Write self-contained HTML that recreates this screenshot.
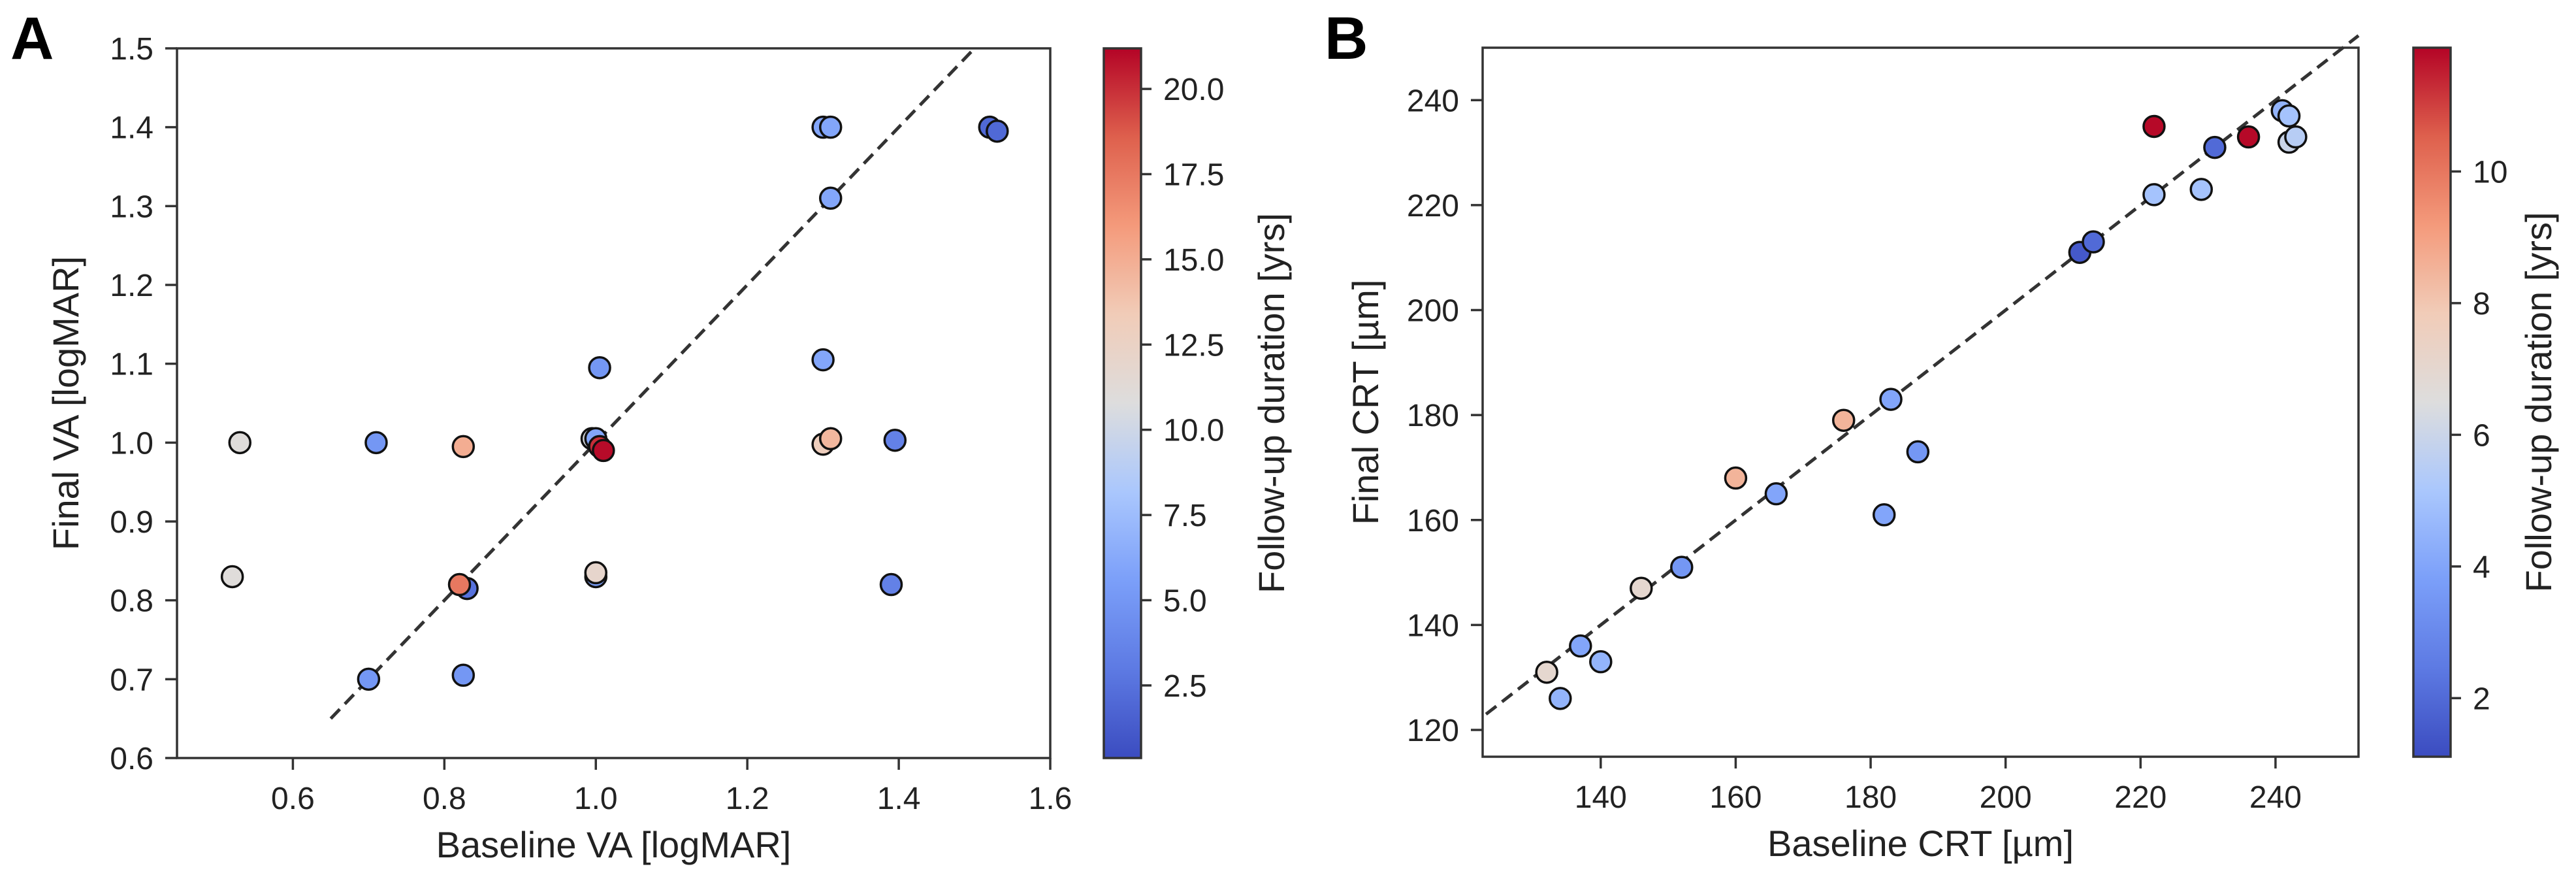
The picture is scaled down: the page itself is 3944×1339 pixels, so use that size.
<!DOCTYPE html>
<html><head><meta charset="utf-8">
<style>
html,body{margin:0;padding:0;background:#fff;}
svg{display:block;font-family:"Liberation Sans",sans-serif;}
</style></head>
<body>
<svg id="fig" width="3944" height="1339" viewBox="0 0 3944 1339" xmlns="http://www.w3.org/2000/svg">
<defs>
<linearGradient id="cw" x1="0" y1="1" x2="0" y2="0">
<stop offset="0" stop-color="#3b4cc0"/><stop offset="0.125" stop-color="#5d7ae3"/>
<stop offset="0.25" stop-color="#7b9ff9"/><stop offset="0.375" stop-color="#aac7fd"/>
<stop offset="0.5" stop-color="#dddddd"/><stop offset="0.625" stop-color="#f1ccb8"/>
<stop offset="0.75" stop-color="#f49a7b"/><stop offset="0.875" stop-color="#de604d"/>
<stop offset="1" stop-color="#b40426"/></linearGradient>
</defs>
</svg>
<script>
// Panel A data
const aBase = [0.52,0.53,0.71,0.70,0.825,0.825,0.83,0.82,0.995,1.0,1.005,1.01,1.005,1.0,1.0,1.3,1.31,1.31,1.30,1.30,1.31,1.395,1.39,1.52,1.53];
const aFinal = [0.83,1.0,1.0,0.70,0.995,0.705,0.815,0.82,1.005,1.005,0.995,0.99,1.095,0.83,0.835,1.4,1.4,1.31,1.105,0.998,1.005,1.003,0.82,1.40,1.395];
const aFollow = [11,11,5,5,15,5,2.5,17.5,10.5,6,20,21,5,5.5,12,6,6,6,6,13,14.5,3.5,3.5,2,2];
const aXTicks = [0.6,0.8,1.0,1.2,1.4,1.6];
const aYTicks = [0.6,0.7,0.8,0.9,1.0,1.1,1.2,1.3,1.4,1.5];
const aCTicks = [2.5,5.0,7.5,10.0,12.5,15.0,17.5,20.0];
// Panel B data
const bBase = [132,134,137,140,146,152,160,166,176,182,183,187,211,213,222,222,229,231,236,241,242,242,243];
const bFinal = [131,126,136,133,147,151,168,165,179,161,183,173,211,213,235,222,223,231,233,238,237,232,233];
const bFollow = [7,4.5,4,4.5,7,3.5,8.5,4,8.5,4,4,3.5,1.5,2,11.8,5,5,2,11.8,4.5,5,6,5.5];
const bXTicks = [140,160,180,200,220,240];
const bYTicks = [120,140,160,180,200,220,240];
const bCTicks = [2,4,6,8,10];

const NS="http://www.w3.org/2000/svg";
const svg=document.getElementById('fig');
function mk(tag,attrs,parent,text){const e=document.createElementNS(NS,tag);for(const k in attrs)e.setAttribute(k,attrs[k]);if(text!==undefined)e.textContent=text;(parent||svg).appendChild(e);return e;}
const stops=[[0,[59,76,192]],[0.125,[93,122,227]],[0.25,[123,159,249]],[0.375,[170,199,253]],[0.5,[221,221,221]],[0.625,[241,204,184]],[0.75,[244,154,123]],[0.875,[222,96,77]],[1,[180,4,38]]];
function cw(t){t=Math.max(0,Math.min(1,t));for(let i=1;i<stops.length;i++){if(t<=stops[i][0]){const a=stops[i-1],b=stops[i];const f=(t-a[0])/(b[0]-a[0]);const c=a[1].map((v,j)=>Math.round(v+(b[1][j]-v)*f));return `rgb(${c[0]},${c[1]},${c[2]})`;}}return 'rgb(180,4,38)';}
function lin(d0,d1,r0,r1){return v=>r0+(v-d0)/(d1-d0)*(r1-r0);}

function panel(o){
  const g=mk('g',{});
  
  
  const X=lin(o.xlim[0],o.xlim[1],o.L,o.R), Y=lin(o.ylim[0],o.ylim[1],o.B,o.T);
  const l=mk('line',{x1:X(o.line[0]),y1:Y(o.line[0]),x2:X(o.line[1]),y2:Y(o.line[1]),stroke:'#333','stroke-width':5,'stroke-dasharray':'20 11'},g);
  
  
  for(let i=0;i<o.xs.length;i++){
    const c=mk('circle',{cx:X(o.xs[i]),cy:Y(o.ys[i]),r:16,fill:cw((o.cs[i]-o.clim[0])/(o.clim[1]-o.clim[0])),stroke:'#111','stroke-width':3.5},g);
    
    
  }
  const f=mk('rect',{x:o.L,y:o.T,width:o.R-o.L,height:o.B-o.T,fill:'none',stroke:'#333','stroke-width':3.5},g);
  
  
  o.xt.forEach(v=>{const x=X(v);mk('line',{x1:x,y1:o.B,x2:x,y2:o.B+18,stroke:'#333','stroke-width':3.5},g);
    const t=mk('text',{x:x,y:o.B+78,'font-size':48,'text-anchor':'middle',fill:'#222'},g,o.xf(v));
    
    });
  o.yt.forEach(v=>{const y=Y(v);mk('line',{x1:o.L-18,y1:y,x2:o.L,y2:y,stroke:'#333','stroke-width':3.5},g);
    const t=mk('text',{x:o.L-36,y:y+17,'font-size':48,'text-anchor':'end',fill:'#222'},g,o.yf(v));
    
    });
  const xl=mk('text',{x:(o.L+o.R)/2,y:o.B+152,'font-size':56,'text-anchor':'middle',fill:'#222'},g,o.xlabel);
  
  
  const yl=mk('text',{x:0,y:0,'font-size':56,'text-anchor':'middle',fill:'#222',transform:`translate(${o.ylx},${(o.T+o.B)/2}) rotate(-90)`},g,o.ylabel);
  
  
  const C=lin(o.clim[0],o.clim[1],o.B,o.T);
  const cb=mk('rect',{x:o.cbx,y:o.T,width:o.cbw,height:o.B-o.T,fill:'url(#cw)',stroke:'#333','stroke-width':3.5},g);
  
  
  o.ct.forEach(v=>{const y=C(v);mk('line',{x1:o.cbx+o.cbw,y1:y,x2:o.cbx+o.cbw+16,y2:y,stroke:'#333','stroke-width':3.5},g);
    const t=mk('text',{x:o.cbx+o.cbw+34,y:y+17,'font-size':48,fill:'#222'},g,o.cf(v));
    
    });
  const cl=mk('text',{x:0,y:0,'font-size':56,'text-anchor':'middle',fill:'#222',transform:`translate(${o.clx},${(o.T+o.B)/2}) rotate(-90)`},g,'Follow-up duration [yrs]');
  
  
  const pl=mk('text',{x:o.plx,y:90,'font-size':92,'font-weight':'bold',fill:'#000'},g,o.letter);
  
  
}
panel({name:'panel-a-va',L:271,R:1608,T:74,B:1160,xlim:[0.447,1.6],ylim:[0.6,1.5],line:[0.65,1.5],
  xs:aBase,ys:aFinal,cs:aFollow,clim:[0.37,21.19],xt:aXTicks,yt:aYTicks,ct:aCTicks,
  xf:v=>v.toFixed(1),yf:v=>v.toFixed(1),cf:v=>v.toFixed(1),
  xlabel:'Baseline VA [logMAR]',ylabel:'Final VA [logMAR]',ylx:120,cbx:1690,cbw:57,clx:1966,plx:16,letter:'A'});
panel({name:'panel-b-crt',L:2270,R:3611,T:73,B:1158,xlim:[122.5,252.3],ylim:[114.9,250],line:[123,252.3],
  xs:bBase,ys:bFinal,cs:bFollow,clim:[1.11,11.88],xt:bXTicks,yt:bYTicks,ct:bCTicks,
  xf:v=>String(v),yf:v=>String(v),cf:v=>String(v),
  xlabel:'Baseline CRT [µm]',ylabel:'Final CRT [µm]',ylx:2110,cbx:3695,cbw:57,clx:3906,plx:2028,letter:'B'});
</script>
</body></html>
